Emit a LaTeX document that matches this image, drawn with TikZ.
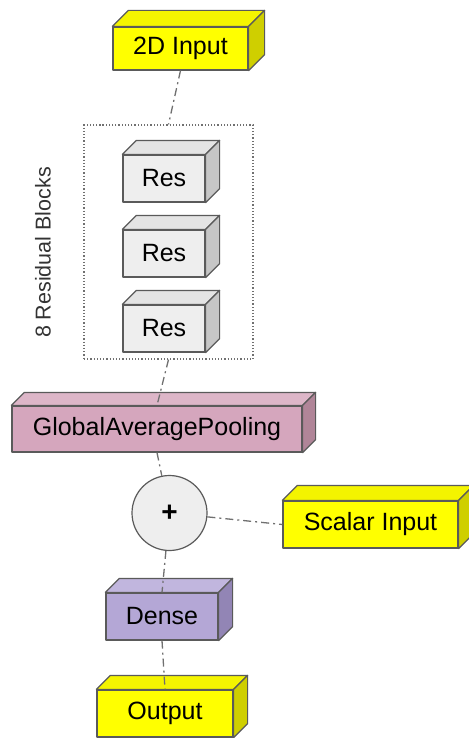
\documentclass[tikz,border=0pt]{standalone}
\usepackage{fontspec}
\setmainfont{Liberation Sans}
\usetikzlibrary{calc}

\definecolor{edge}{HTML}{5A5A5A}
\definecolor{linkgray}{HTML}{707070}
\definecolor{yfront}{HTML}{FFFF00}
\definecolor{ytop}{HTML}{F4F400}
\definecolor{yside}{HTML}{CFCF00}
\definecolor{rfront}{HTML}{EEEEEE}
\definecolor{rtop}{HTML}{E4E4E4}
\definecolor{rside}{HTML}{C6C6C6}
\definecolor{pfront}{HTML}{D5A6BD}
\definecolor{ptop}{HTML}{DDB6C8}
\definecolor{pside}{HTML}{B08598}
\definecolor{dfront}{HTML}{B4A7D6}
\definecolor{dtop}{HTML}{C1B6DE}
\definecolor{dside}{HTML}{9285B5}

\tikzset{
  blk/.style={draw=edge, line width=1.2bp, inner sep=0pt, line join=round,
    font=\fontsize{25bp}{29bp}\selectfont},
  face/.style={draw=edge, line width=1.2bp, line join=round},
  link/.style={draw=linkgray, line width=1.3bp,
    dash pattern=on 8bp off 4bp on 2bp off 4bp},
}

% top and right faces of a box-shaped node: node, depth, top colour, side colour
\newcommand\blkfaces[4]{%
  \filldraw[face, fill=#3] (#1.north west) -- ++(#2,-#2)
    -- ($(#1.north east)+(#2,-#2)$) -- (#1.north east) -- cycle;
  \filldraw[face, fill=#4] (#1.north east) -- ++(#2,-#2)
    -- ($(#1.south east)+(#2,-#2)$) -- (#1.south east) -- cycle;
}

\begin{document}
\begin{tikzpicture}[x=1bp, y=-1bp]
  \useasboundingbox (0,0) rectangle (469,738);

  % input
  \node[blk, fill=yfront, minimum width=135bp, minimum height=43bp] (in2d) at (180.5,48.5) {2D Input};
  \blkfaces{in2d}{16}{ytop}{yside}

  % residual group
  \node[draw=linkgray, line width=1.2bp, dotted, minimum width=169bp, minimum height=234bp] (grp) at (168.5,242) {};
  \node[rotate=90, text=black!80, font=\fontsize{21.5bp}{24bp}\selectfont] (grplbl) at (43,252.5) {8 Residual Blocks};

  \node[blk, fill=rfront, minimum width=82bp, minimum height=47bp] (res1) at (164,178.5) {Res};
  \blkfaces{res1}{14}{rtop}{rside}
  \node[blk, fill=rfront, minimum width=82bp, minimum height=47bp] (res2) at (164,253.5) {Res};
  \blkfaces{res2}{14}{rtop}{rside}
  \node[blk, fill=rfront, minimum width=82bp, minimum height=47bp] (res3) at (164,328.5) {Res};
  \blkfaces{res3}{14}{rtop}{rside}

  % pooling
  \node[blk, fill=pfront, minimum width=290bp, minimum height=46bp] (pool) at (157,429) {GlobalAveragePooling};
  \blkfaces{pool}{13}{ptop}{pside}

  % merge
  \node[circle, draw=edge, line width=1.2bp, fill=rfront, minimum size=75bp, inner sep=0pt,
    font=\fontsize{28bp}{30bp}\selectfont\bfseries] (plus) at (169.5,513) {+};

  % scalar input
  \node[blk, fill=yfront, minimum width=175bp, minimum height=47bp] (scal) at (370.5,524.5) {Scalar Input};
  \blkfaces{scal}{15}{ytop}{yside}

  % dense
  \node[blk, fill=dfront, minimum width=112bp, minimum height=47bp] (dense) at (162,616.5) {Dense};
  \blkfaces{dense}{14}{dtop}{dside}

  % output
  \node[blk, fill=yfront, minimum width=136bp, minimum height=47bp] (out) at (165,713.5) {Output};
  \blkfaces{out}{14}{ytop}{yside}

  % connectors
  \draw[link] (in2d.south) -- (grp.north);
  \draw[link] (grp.south) -- (pool.north);
  \draw[link] (pool.south) -- (plus);
  \draw[link] (plus) -- (scal.west);
  \draw[link] (plus) -- (dense.north);
  \draw[link] (dense.south) -- (out.north);
\end{tikzpicture}
\end{document}
